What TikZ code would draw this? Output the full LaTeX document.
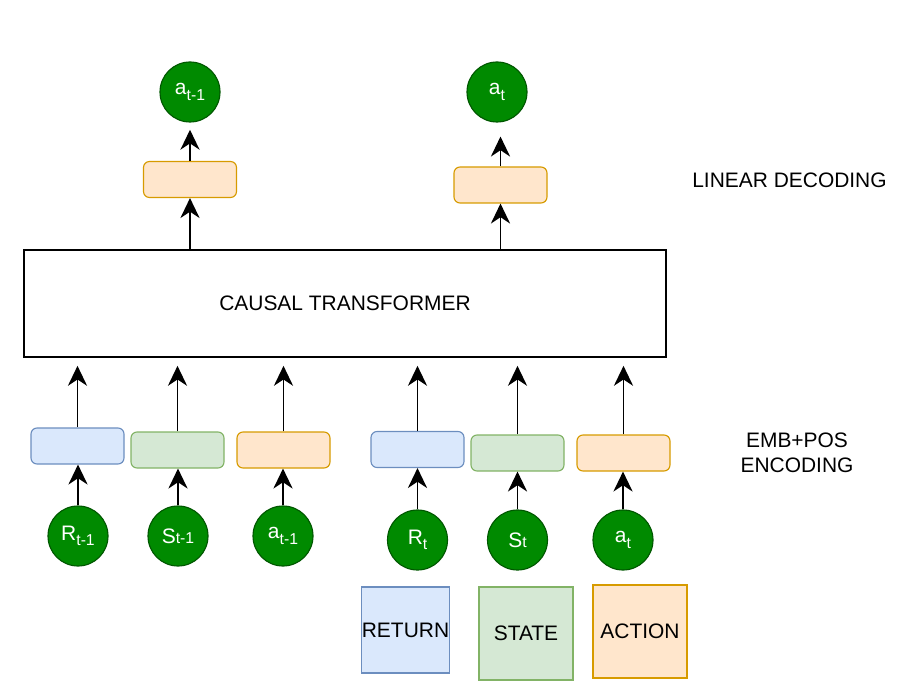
\documentclass[tikz,border=0pt]{standalone}
\usepackage{fontspec}
\setmainfont{Liberation Sans}
\usetikzlibrary{arrows.meta}
\definecolor{retfill}{HTML}{DAE8FC}
\definecolor{retdraw}{HTML}{6C8EBF}
\definecolor{stafill}{HTML}{D5E8D4}
\definecolor{stadraw}{HTML}{82B366}
\definecolor{actfill}{HTML}{FFE6CC}
\definecolor{actdraw}{HTML}{D79B00}
\definecolor{tokfill}{HTML}{008A00}
\definecolor{tokdraw}{HTML}{005700}
\newcommand{\subsmall}[1]{{\fontsize{11.2}{13}\selectfont #1}}
\newcommand{\tsub}[1]{\raisebox{-4pt}{\fontsize{11.2}{13}\selectfont #1}}
\tikzset{
    every node/.style={font=\fontsize{14.9}{17.9}\selectfont},
    embbox/.style={
    rectangle,
    rounded corners=1.5mm,
    line width=0.8pt,
    minimum width=2.325cm,
    minimum height=0.9cm},
  ret/.style={embbox, fill=retfill, draw=retdraw},
  sta/.style={embbox, fill=stafill, draw=stadraw},
  act/.style={embbox, fill=actfill, draw=actdraw},
  token/.style={
    circle,
    fill=tokfill,
    draw=tokdraw, line width=0.8pt,
    minimum size=1.5cm,
    inner sep=0pt,
    text=white},
  legend/.style={rectangle, line width=0.8pt, inner sep=0pt},
  line/.style={draw, line width=1pt, -{Stealth[length=5mm, width=4.8mm, inset=1.6mm]}},
}

\begin{document}
\begin{tikzpicture}

\useasboundingbox (0,0) rectangle (22.6,17.25);

  %% Transformer
  \node[draw, line width=1.2pt, minimum width=16.05cm, minimum height=2.675cm] (tf) at (8.625,9.6625) {CAUSAL TRANSFORMER};

  %% Embedding and tokens
  \foreach \n/\x/\y/\s/\cx/\cy/\t in {1/1.9375/6.1/ret/1.95/3.85/{R\tsub{t-1}},
                     2/4.4375/6.0/sta/4.45/3.85/{S\subsmall{t-1}},
                     3/7.0875/6.0/act/7.075/3.85/{a\tsub{t-1}},
                     4/10.4375/6.0125/ret/10.4375/3.75/{R\tsub{t}},
                     5/12.9375/5.925/sta/12.9375/3.75/{S\subsmall{t}},
                     6/15.5875/5.925/act/15.575/3.75/{a\tsub{t}}
                     }{
 \node[\s] (e\n) at (\x,\y) {};
 \node[token] (c\n) at (\cx,\cy) {\t};
 \draw[line] (c\n.north) -- (c\n.north |- e\n.south);
 \draw[line, shorten >=2mm] (e\n.north) -- (e\n.north |- tf.south);
 }

  %% Linear decoding
  \foreach \n/\x/\y/\ox/\t/\g in {1/4.75/12.7625/4.75/{a\tsub{t-1}}/1.8mm,
                     2/12.5125/12.625/12.425/{a\tsub{t}}/3.5mm
                     }{
 \node[act] (d\n) at (\x,\y) {};
 \node[token] (o\n) at (\ox,14.95) {\t};
 \draw[line] (tf.north -| d\n.south) -- (d\n.south);
 \draw[line, shorten >=\g] (d\n.north) -- (d\n.north |- o\n.south);
 }

  %% Side labels
  \node (lindec) at (19.7375,12.75) {LINEAR DECODING};
  \node[align=center] (embpos) at (19.925,5.925) {EMB+POS\\ENCODING};

  %% Legend
  \node[legend, fill=retfill, draw=retdraw, minimum width=2.175cm, minimum height=2.15cm] (lret) at (10.1375,1.5) {RETURN};
  \node[legend, fill=stafill, draw=stadraw, minimum width=2.35cm, minimum height=2.325cm] (lsta) at (13.15,1.4125) {STATE};
  \node[legend, fill=actfill, draw=actdraw, minimum width=2.35cm, minimum height=2.325cm] (lact) at (16.0,1.4625) {ACTION};

\end{tikzpicture}
\end{document}
